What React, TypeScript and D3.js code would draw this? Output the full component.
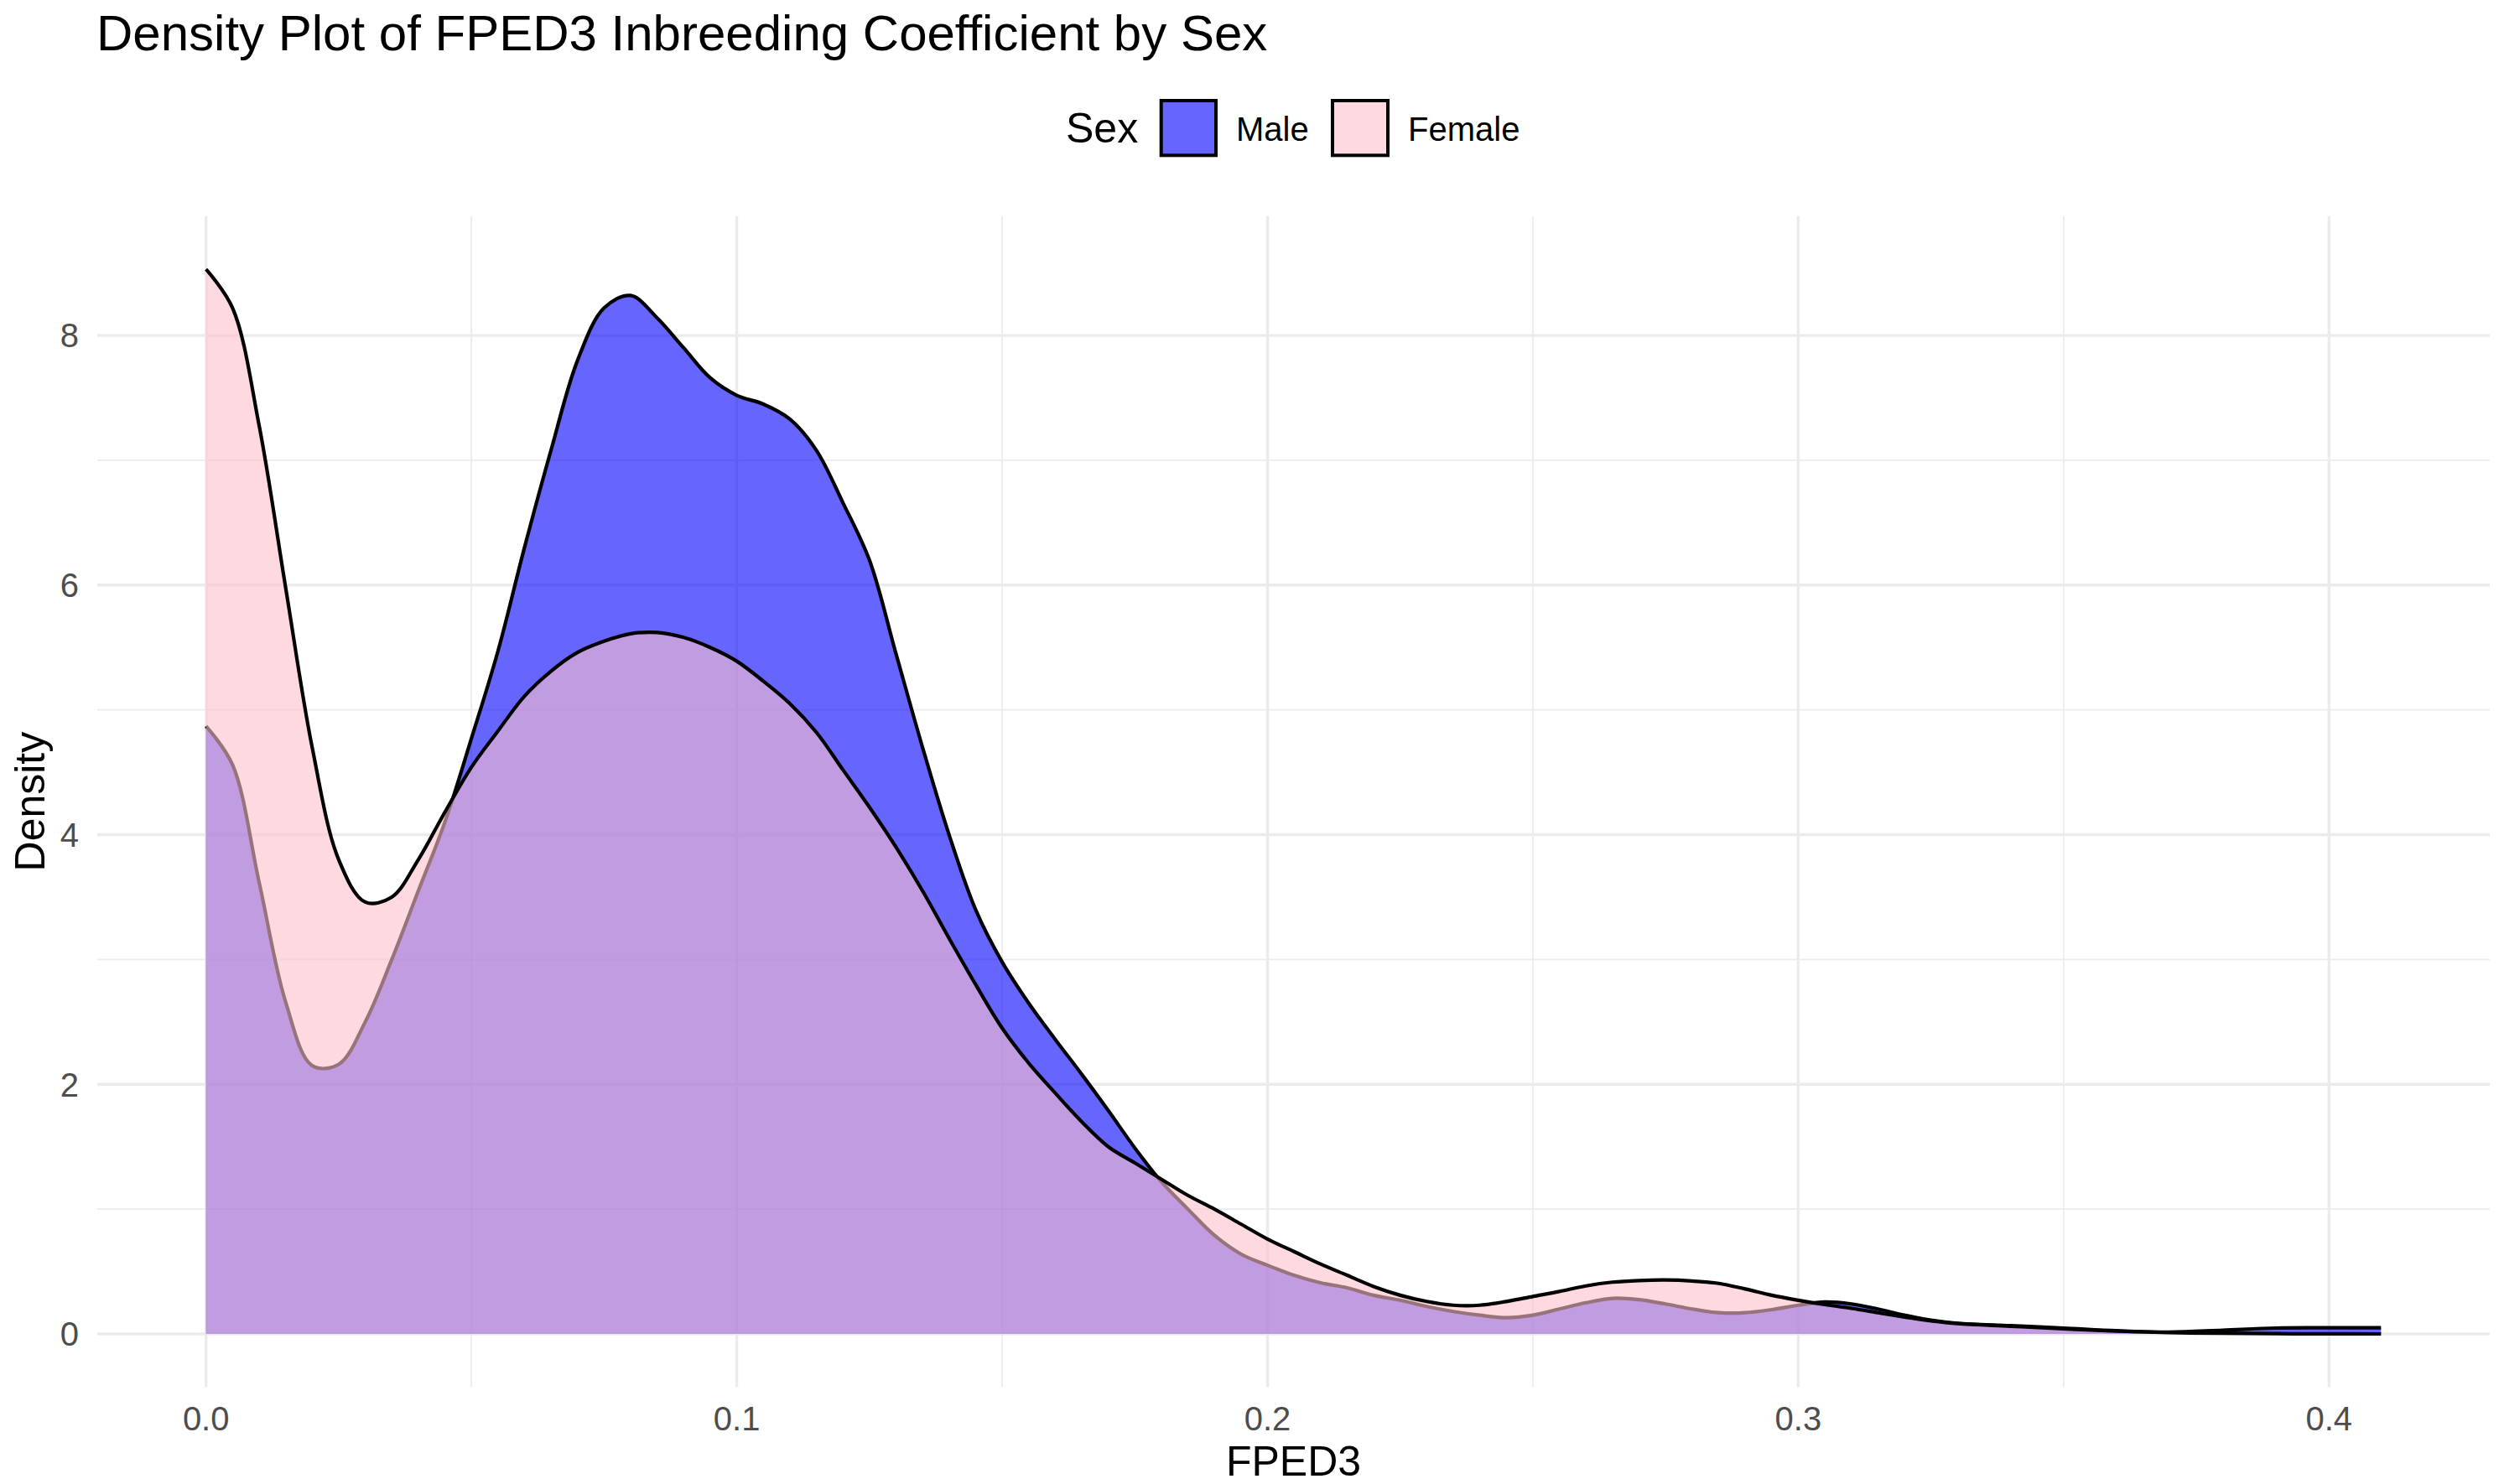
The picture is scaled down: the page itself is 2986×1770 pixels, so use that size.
import React from 'react';
import * as d3 from 'd3';

// FPED3 evaluation points (x) for the kernel density curves
const fped3Grid = [
  0, 0.005, 0.01, 0.015, 0.02, 0.025, 0.03, 0.035, 0.04, 0.045,
  0.05, 0.055, 0.06, 0.065, 0.07, 0.075, 0.08, 0.085, 0.09, 0.095,
  0.1, 0.105, 0.11, 0.115, 0.12, 0.125, 0.13, 0.135, 0.14, 0.145,
  0.15, 0.155, 0.16, 0.165, 0.17, 0.175, 0.18, 0.185, 0.19, 0.195,
  0.2, 0.205, 0.21, 0.215, 0.22, 0.225, 0.23, 0.235, 0.24, 0.245,
  0.25, 0.255, 0.26, 0.265, 0.27, 0.275, 0.28, 0.285, 0.29, 0.295,
  0.3, 0.305, 0.31, 0.315, 0.32, 0.325, 0.33,
  0.34, 0.35, 0.36, 0.37, 0.38, 0.39, 0.4, 0.4098,
];

const maleDensity = [
  4.87, 4.56, 3.62, 2.66, 2.15, 2.16, 2.5, 3.0, 3.55, 4.1,
  4.77, 5.47, 6.3, 7.08, 7.8, 8.22, 8.32, 8.14, 7.9, 7.66,
  7.52, 7.45, 7.33, 7.08, 6.66, 6.2, 5.45, 4.7, 4.0, 3.4,
  2.98, 2.65, 2.36, 2.08, 1.79, 1.49, 1.22, 1.0, 0.79, 0.64,
  0.55, 0.47, 0.41, 0.37, 0.31, 0.27, 0.22, 0.18, 0.15, 0.13,
  0.15, 0.2, 0.25, 0.285, 0.275, 0.24, 0.2, 0.17, 0.17, 0.195,
  0.23, 0.256, 0.24, 0.2, 0.15, 0.11, 0.085,
  0.066, 0.047, 0.026, 0.014, 0.03, 0.047, 0.049, 0.049,
];

const femaleDensity = [
  8.53, 8.22, 7.28, 5.98, 4.7, 3.8, 3.46, 3.5, 3.8, 4.18,
  4.54, 4.83, 5.11, 5.31, 5.46, 5.55, 5.61, 5.62, 5.58, 5.5,
  5.39, 5.23, 5.05, 4.82, 4.52, 4.22, 3.9, 3.55, 3.17, 2.8,
  2.45, 2.17, 1.93, 1.7, 1.5, 1.37, 1.24, 1.11, 1.0, 0.88,
  0.76, 0.66, 0.56, 0.47, 0.38, 0.31, 0.26, 0.23, 0.23, 0.26,
  0.3, 0.34, 0.385, 0.415, 0.428, 0.432, 0.424, 0.405, 0.36, 0.31,
  0.27, 0.235, 0.205, 0.17, 0.135, 0.105, 0.083,
  0.062, 0.041, 0.022, 0.01, 0.006, 0.002, 0.001, 0,
];

const sexLevels = ['Male', 'Female'];
const sexFills = ['#0000FF', '#FFC0CB'];
const xTicks = [0, 0.1, 0.2, 0.3, 0.4];
const xMinor = [0.05, 0.15, 0.25, 0.35];
const yTicks = [0, 2, 4, 6, 8];
const yMinor = [1, 3, 5, 7];

const W = 2986;
const H = 1770;
const FONT = '"Liberation Sans", Arial, Helvetica, sans-serif';

export default function App() {
  const panel = { left: 116, right: 2969, top: 257.7, bottom: 1654.5 };

  const xLo = d3.min(fped3Grid) as number;
  const xHi = d3.max(fped3Grid) as number;
  const xPad = (xHi - xLo) * 0.05;
  const x = d3.scaleLinear().domain([xLo - xPad, xHi + xPad]).range([panel.left, panel.right]);

  const yHi = d3.max([...maleDensity, ...femaleDensity]) as number;
  const yPad = yHi * 0.05;
  const y = d3.scaleLinear().domain([-yPad, yHi + yPad]).range([panel.bottom, panel.top]);

  const series = [maleDensity, femaleDensity].map((vals) =>
    fped3Grid.map((g, i) => ({ x: g, d: vals[i] }))
  );

  const curve = d3.curveCatmullRom.alpha(0.5);

  const area = d3
    .area<{ x: number; d: number }>()
    .x((p) => x(p.x))
    .y0(y(0))
    .y1((p) => y(p.d))
    .curve(curve);

  const line = d3
    .line<{ x: number; d: number }>()
    .x((p) => x(p.x))
    .y((p) => y(p.d))
    .curve(curve);

  const grid = '#EBEBEB';

  return (
    <svg
      width={W}
      height={H}
      viewBox={`0 0 ${W} ${H}`}
      style={{ position: 'absolute', left: 0, top: 0, display: 'block', background: '#fff' }}
      fontFamily={FONT}
    >
      <rect x={0} y={0} width={W} height={H} fill="#fff" />

      {/* minor grid */}
      {yMinor.map((t) => (
        <line key={`ym${t}`} x1={panel.left} x2={panel.right} y1={y(t)} y2={y(t)} stroke={grid} strokeWidth={1.7} />
      ))}
      {xMinor.map((t) => (
        <line key={`xm${t}`} x1={x(t)} x2={x(t)} y1={panel.top} y2={panel.bottom} stroke={grid} strokeWidth={1.7} />
      ))}
      {/* major grid */}
      {yTicks.map((t) => (
        <line key={`yM${t}`} x1={panel.left} x2={panel.right} y1={y(t)} y2={y(t)} stroke={grid} strokeWidth={3.4} />
      ))}
      {xTicks.map((t) => (
        <line key={`xM${t}`} x1={x(t)} x2={x(t)} y1={panel.top} y2={panel.bottom} stroke={grid} strokeWidth={3.4} />
      ))}

      {/* densities: Male first, Female on top */}
      {series.map((s, i) => (
        <g key={sexLevels[i]}>
          <path d={area(s) || ''} fill={sexFills[i]} fillOpacity={0.6} stroke="none" />
          <path d={line(s) || ''} fill="none" stroke="#000" strokeWidth={4.2} strokeLinejoin="round" />
        </g>
      ))}

      {/* axis tick labels */}
      {yTicks.map((t) => (
        <text key={`yl${t}`} x={94} y={y(t)} dy="0.36em" textAnchor="end" fontSize={40} fill="#4D4D4D">
          {t}
        </text>
      ))}
      {xTicks.map((t) => (
        <text key={`xl${t}`} x={x(t)} y={1706} textAnchor="middle" fontSize={40} fill="#4D4D4D">
          {d3.format('.1f')(t)}
        </text>
      ))}

      {/* axis titles */}
      <text x={(panel.left + panel.right) / 2} y={1760} textAnchor="middle" fontSize={50} fill="#000">
        FPED3
      </text>
      <text
        transform={`translate(53, ${(panel.top + panel.bottom) / 2}) rotate(-90)`}
        textAnchor="middle"
        fontSize={50}
        fill="#000"
      >
        Density
      </text>

      {/* title */}
      <text x={115} y={60} fontSize={60} fill="#000">
        Density Plot of FPED3 Inbreeding Coefficient by Sex
      </text>

      {/* legend */}
      <text x={1271} y={170} fontSize={50} fill="#000">
        Sex
      </text>
      <rect x={1384.7} y={120} width={65.3} height={65.3} fill={sexFills[0]} fillOpacity={0.6} stroke="#000" strokeWidth={4} />
      <text x={1474} y={167.7} fontSize={40} fill="#000">
        {sexLevels[0]}
      </text>
      <rect x={1589} y={120} width={66} height={65.3} fill={sexFills[1]} fillOpacity={0.6} stroke="#000" strokeWidth={4} />
      <text x={1679} y={167.7} fontSize={40} fill="#000">
        {sexLevels[1]}
      </text>
    </svg>
  );
}
